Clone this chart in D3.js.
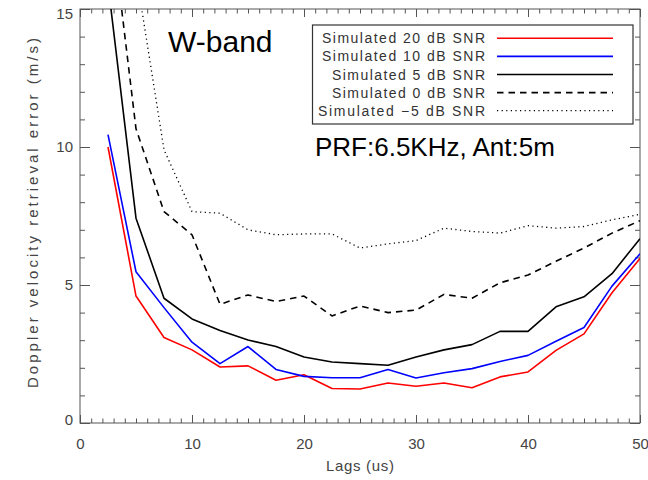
<!DOCTYPE html>
<html>
<head>
<meta charset="utf-8">
<script src="https://cdn.jsdelivr.net/npm/d3@7"></script>
<style>
  html, body { margin: 0; padding: 0; background: #fff; }
  svg { display: block; }
  text { font-family: "Liberation Sans", Arial, sans-serif; }
</style>
</head>
<body>
<div id="chart"></div>
<script>
// ---- data ----
const lags = [2.5, 5, 7.5, 10, 12.5, 15, 17.5, 20, 22.5, 25, 27.5, 30, 32.5, 35, 37.5, 40, 42.5, 45, 47.5, 50];
const snr20 = [10.0, 4.6, 3.1, 2.65, 2.03, 2.07, 1.55, 1.75, 1.25, 1.23, 1.45, 1.33, 1.45, 1.28, 1.67, 1.85, 2.63, 3.23, 4.72, 5.96];
const snr10 = [10.45, 5.48, 4.18, 2.93, 2.15, 2.77, 1.94, 1.69, 1.64, 1.64, 1.94, 1.63, 1.82, 1.97, 2.23, 2.45, 2.96, 3.46, 4.96, 6.13];
const snr5 = [15.9, 7.42, 4.52, 3.77, 3.35, 3.01, 2.77, 2.39, 2.21, 2.15, 2.09, 2.39, 2.65, 2.84, 3.32, 3.32, 4.21, 4.57, 5.41, 6.68];
const snr0 = [19.1, 10.66, 7.66, 6.82, 4.30, 4.64, 4.40, 4.60, 3.88, 4.24, 4.00, 4.09, 4.66, 4.52, 5.08, 5.36, 5.86, 6.34, 6.88, 7.33];
const snrm5 = [24.0, 16.3, 9.9, 7.66, 7.6, 7.0, 6.82, 6.85, 6.85, 6.34, 6.49, 6.61, 7.06, 6.94, 6.88, 7.15, 7.06, 7.12, 7.36, 7.56];
const seriesNames = ["Simulated 20 dB SNR", "Simulated 10 dB SNR", "Simulated 5 dB SNR", "Simulated 0 dB SNR", "Simulated \u22125 dB SNR"];
const xMajorTicks = [0, 10, 20, 30, 40, 50];
const yMajorTicks = [0, 5, 10, 15];

// ---- styles ----
const styles = [
  {color: "#ff0000", dash: null, width: 1.6},
  {color: "#0000ff", dash: null, width: 1.6},
  {color: "#000000", dash: null, width: 1.6},
  {color: "#000000", dash: "6.5,5", width: 1.6},
  {color: "#000000", dash: "1.2,3.4", width: 1.3}
];
const seriesData = [snr20, snr10, snr5, snr0, snrm5];

const W = 648, H = 480;
const pL = 80, pR = 640, pT = 9, pB = 423;

const svg = d3.select("#chart").append("svg").attr("width", W).attr("height", H);

const x = d3.scaleLinear().domain([0, 50]).range([pL, pR]);
const y = d3.scaleLinear().domain([0, 15]).range([pB, pT]);

svg.append("clipPath").attr("id", "plotclip")
  .append("rect").attr("x", pL).attr("y", pT).attr("width", pR - pL).attr("height", pB - pT);

const axisColor = "#555";
const labelColor = "#444";

function styleAxis(g) {
  g.select(".domain").remove();
  g.selectAll("line").attr("stroke", axisColor);
  g.selectAll("text").attr("fill", labelColor).style("font-size", "15px")
    .style("font-family", "'Liberation Sans', Arial, sans-serif");
}

const xMinor = d3.range(0, 51, 1);
const yMinor = d3.range(0, 16, 1);

// bottom axis
svg.append("g").attr("transform", `translate(0,${pB})`)
  .call(d3.axisBottom(x).tickValues(xMinor).tickSize(-4.5).tickFormat("")).call(styleAxis);
svg.append("g").attr("transform", `translate(0,${pB})`)
  .call(d3.axisBottom(x).tickValues(xMajorTicks).tickSize(-8).tickPadding(15).tickFormat(d3.format("d"))).call(styleAxis);
// top axis
svg.append("g").attr("transform", `translate(0,${pT})`)
  .call(d3.axisTop(x).tickValues(xMinor).tickSize(-4.5).tickFormat("")).call(styleAxis);
svg.append("g").attr("transform", `translate(0,${pT})`)
  .call(d3.axisTop(x).tickValues(xMajorTicks).tickSize(-8).tickFormat("")).call(styleAxis);
// left axis
svg.append("g").attr("transform", `translate(${pL},0)`)
  .call(d3.axisLeft(y).tickValues(yMinor).tickSize(-5).tickFormat("")).call(styleAxis);
const yl = svg.append("g").attr("transform", `translate(${pL},0)`)
  .call(d3.axisLeft(y).tickValues(yMajorTicks).tickSize(-10).tickPadding(7).tickFormat(d3.format("d"))).call(styleAxis);
// keep the top label inside the picture, like the reference
yl.selectAll("text").attr("dy", d => d === 15 ? "9px" : (d === 0 ? "1px" : "4px"));
// right axis
svg.append("g").attr("transform", `translate(${pR},0)`)
  .call(d3.axisRight(y).tickValues(yMinor).tickSize(-5).tickFormat("")).call(styleAxis);
svg.append("g").attr("transform", `translate(${pR},0)`)
  .call(d3.axisRight(y).tickValues(yMajorTicks).tickSize(-10).tickFormat("")).call(styleAxis);

// frame
svg.append("rect").attr("x", pL).attr("y", pT).attr("width", pR - pL).attr("height", pB - pT)
  .attr("fill", "none").attr("stroke", axisColor).attr("stroke-width", 1);

// lines
const line = d3.line().x((d, i) => x(lags[i])).y(d => y(d));
const plot = svg.append("g").attr("clip-path", "url(#plotclip)");
seriesData.forEach((vals, k) => {
  plot.append("path").datum(vals)
    .attr("d", line)
    .attr("fill", "none")
    .attr("stroke", styles[k].color)
    .attr("stroke-width", styles[k].width)
    .attr("stroke-dasharray", styles[k].dash)
    .attr("stroke-linejoin", "round");
});

// axis titles
svg.append("text").attr("x", 360).attr("y", 471).attr("text-anchor", "middle")
  .attr("fill", labelColor).style("font-size", "15px").attr("textLength", 68).attr("lengthAdjust", "spacing")
  .text("Lags (us)");
svg.append("text").attr("transform", "translate(38,213) rotate(-90)").attr("text-anchor", "middle")
  .attr("fill", labelColor).style("font-size", "15px").attr("textLength", 350).attr("lengthAdjust", "spacing")
  .text("Doppler velocity retrieval error (m/s)");

// annotations
svg.append("text").attr("x", 168).attr("y", 52).attr("fill", "#000").style("font-size", "30px").text("W-band");
svg.append("text").attr("x", 315).attr("y", 156).attr("fill", "#000").style("font-size", "26px").text("PRF:6.5KHz, Ant:5m");

// legend
const legX0 = 312.5, legY0 = 25, legW = 320.5, legH = 99;
svg.append("rect").attr("x", legX0).attr("y", legY0).attr("width", legW).attr("height", legH)
  .attr("fill", "#fff").attr("stroke", "#333").attr("stroke-width", 1.2);
const rowY = d3.scaleLinear().domain([0, 4]).range([38.3, 110.7]);
const textLens = [163, 163, 153, 153, 167];
seriesNames.forEach((name, k) => {
  const cy = rowY(k);
  svg.append("text").attr("x", 485).attr("y", cy + 5).attr("text-anchor", "end")
    .attr("fill", "#333").style("font-size", "14px")
    .attr("textLength", textLens[k]).attr("lengthAdjust", "spacing")
    .text(name);
  svg.append("line").attr("x1", 497).attr("x2", 613).attr("y1", cy).attr("y2", cy)
    .attr("stroke", styles[k].color).attr("stroke-width", styles[k].width)
    .attr("stroke-dasharray", styles[k].dash);
});
</script>
</body>
</html>
